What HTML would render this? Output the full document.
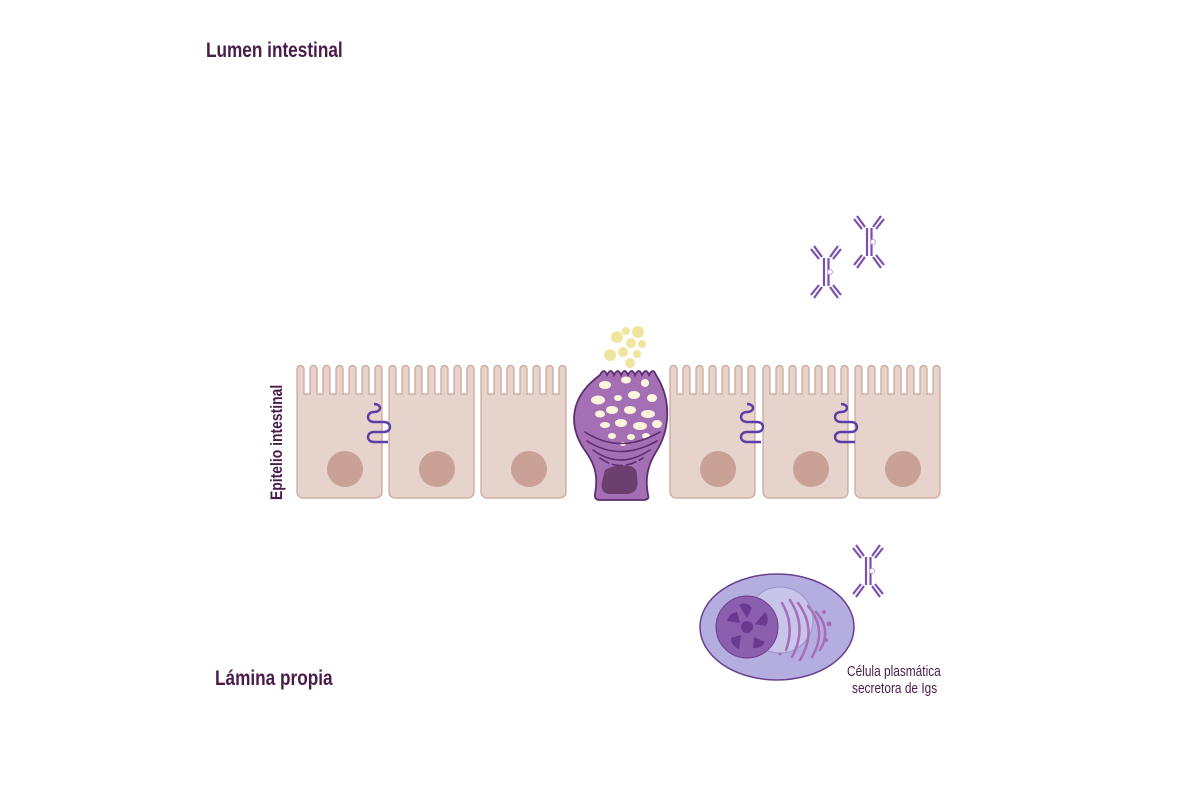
<!DOCTYPE html>
<html><head><meta charset="utf-8"><style>
html,body{margin:0;padding:0;background:#fff;}
svg{display:block}
text{font-family:"Liberation Sans",sans-serif;fill:#4a1c4a;}
</style></head><body>
<svg width="1200" height="800" viewBox="0 0 1200 800" xmlns="http://www.w3.org/2000/svg">
<defs>
<g id="cell">
  <path d="M0,5 a3.5,3.5 0 0 1 7,0 V30 H13 V5 a3.5,3.5 0 0 1 7,0 V30 H26 V5 a3.5,3.5 0 0 1 7,0 V30 H39 V5 a3.5,3.5 0 0 1 7,0 V30 H52 V5 a3.5,3.5 0 0 1 7,0 V30 H65 V5 a3.5,3.5 0 0 1 7,0 V30 H78 V5 a3.5,3.5 0 0 1 7,0 V128 a6,6 0 0 1 -6,6 H6 a6,6 0 0 1 -6,-6 Z" fill="#e6d3cb" stroke="#c9a497" stroke-width="1.2"/>
  <circle cx="48" cy="105" r="18" fill="#caa196"/>
</g>
<g id="ab" stroke="#7a4fae" stroke-width="2.2" fill="none">
  <line x1="-4" y1="13" x2="-12" y2="2"/><line x1="-7" y1="15" x2="-15" y2="5"/>
  <line x1="4" y1="13" x2="12" y2="2"/><line x1="7" y1="15" x2="15" y2="5"/>
  <line x1="-2" y1="14" x2="-2" y2="42"/><line x1="2.5" y1="14" x2="2.5" y2="42"/>
  <line x1="-4" y1="43" x2="-12" y2="54"/><line x1="-7" y1="41" x2="-15" y2="51"/>
  <line x1="4" y1="43" x2="12" y2="54"/><line x1="7" y1="41" x2="15" y2="51"/>
  <circle cx="4" cy="28" r="2.5" stroke="#b9a3d4" stroke-width="1" fill="#fff"/>
</g>
<path id="wave" d="M0,0 c8,0 8,8 0,8 c-8,0 -8,10 0,10 h10 c8,0 8,10 0,10 h-10 c-8,0 -8,10 0,10 h14" fill="none" stroke="#5b3ea8" stroke-width="2.4"/>
</defs>

<text x="206" y="57" font-size="21" font-weight="bold" transform="translate(206,0) scale(0.82,1) translate(-206,0)">Lumen intestinal</text>
<text x="215" y="685" font-size="21" font-weight="bold" transform="translate(215,0) scale(0.82,1) translate(-215,0)">Lámina propia</text>
<text transform="translate(282,500) rotate(-90) scale(0.82,1)" font-size="17" font-weight="bold">Epitelio intestinal</text>

<use href="#cell" x="297" y="364"/>
<use href="#cell" x="389" y="364"/>
<use href="#cell" x="481" y="364"/>
<use href="#cell" x="670" y="364"/>
<use href="#cell" x="763" y="364"/>
<use href="#cell" x="855" y="364"/>

<use href="#wave" x="374" y="404"/>
<use href="#wave" x="747" y="404"/>
<use href="#wave" x="841" y="404"/>

<g fill="#eee18e" opacity="0.85">
<circle cx="617" cy="337" r="6"/><circle cx="626" cy="331" r="4"/><circle cx="638" cy="332" r="6"/>
<circle cx="631" cy="343" r="5"/><circle cx="642" cy="344" r="4"/><circle cx="623" cy="352" r="5"/>
<circle cx="610" cy="355" r="6"/><circle cx="637" cy="354" r="4"/><circle cx="630" cy="363" r="5"/>
</g>
<path d="M600,375 q4,-8 7,0 q4,-8 7,0 q4,-8 7,0 q4,-8 7,0 q4,-8 7,0 q4,-8 7,0 q4,-8 7,0 q4,-8 7,0 C672,400 670,430 656,452 C647,466 645,480 648,495 Q650,500 642,500 H600 Q594,500 595,494 C598,478 596,466 586,452 C570,430 566,400 600,375 Z" fill="#a56fb6" stroke="#5d2e70" stroke-width="1.8"/>
<g fill="#fdf4dc">
<ellipse cx="605" cy="385" rx="6" ry="4"/><ellipse cx="626" cy="380" rx="5" ry="3.5"/><ellipse cx="645" cy="383" rx="4" ry="4"/>
<ellipse cx="598" cy="400" rx="7" ry="4.5"/><ellipse cx="618" cy="398" rx="4" ry="3"/><ellipse cx="634" cy="395" rx="6" ry="4"/><ellipse cx="652" cy="398" rx="5" ry="4"/>
<ellipse cx="600" cy="414" rx="5" ry="3.5"/><ellipse cx="612" cy="410" rx="6" ry="4"/><ellipse cx="630" cy="410" rx="6" ry="4"/><ellipse cx="648" cy="414" rx="7" ry="4"/>
<ellipse cx="605" cy="425" rx="5" ry="3"/><ellipse cx="621" cy="423" rx="6" ry="4"/><ellipse cx="640" cy="426" rx="7" ry="4"/><ellipse cx="657" cy="424" rx="5" ry="4"/>
<ellipse cx="612" cy="436" rx="4" ry="3"/><ellipse cx="631" cy="437" rx="4" ry="3"/><ellipse cx="646" cy="436" rx="4" ry="3"/><ellipse cx="623" cy="444" rx="3" ry="2"/>
</g>
<g fill="none" stroke="#5d2e70" stroke-width="1.6" stroke-linecap="round">
<path d="M585,432 Q620,455 660,432"/><path d="M587,441 Q620,462 657,441"/><path d="M593,450 Q620,470 650,450"/><path d="M600,458 Q620,473 643,458" stroke-dasharray="10 4"/>
</g>
<path d="M605,470 Q615,464 630,466 Q638,468 637,478 Q640,492 628,494 H608 Q600,492 602,482 Z" fill="#6b3f6e"/>

<use href="#ab" x="826" y="244"/>
<use href="#ab" x="869" y="214"/>
<use href="#ab" x="868" y="543"/>

<ellipse cx="777" cy="627" rx="77" ry="53" fill="#b4aee0" stroke="#6a3f8c" stroke-width="1.5"/>
<circle cx="780" cy="620" r="33" fill="#c9c4ea" stroke="#9c93cc" stroke-width="1"/>
<circle cx="747" cy="627" r="31" fill="#8c5fae" stroke="#6a3f8c" stroke-width="1"/>
<g fill="#6a3a92">
<circle cx="747" cy="627" r="6"/>
<path d="M739,605 q8,-4 13,3 l-5,10 z"/><path d="M765,612 q5,7 1,14 l-11,-2 z"/><path d="M765,642 q-4,7 -12,6 l1,-11 z"/>
<path d="M739,649 q-8,-3 -8,-11 l10,-3 z"/><path d="M727,621 q2,-8 10,-9 l3,11 z"/>
</g>
<g fill="none" stroke="#a86cb8" stroke-width="2.5" stroke-linecap="round">
<path d="M782,603 Q795,625 786,650"/><path d="M790,600 Q808,628 792,657"/><path d="M798,603 Q818,630 800,660"/>
<path d="M808,606 Q828,630 812,657"/><path d="M816,612 Q832,630 820,650"/>
</g>
<g fill="#a86cb8"><circle cx="824" cy="612" r="2"/><circle cx="829" cy="624" r="2.5"/><circle cx="826" cy="640" r="2"/><circle cx="780" cy="654" r="1.5"/></g>

<text font-size="14.5" transform="translate(847,676) scale(0.82,1)">Célula plasmática</text>
<text font-size="14.5" transform="translate(852,693) scale(0.82,1)">secretora de Igs</text>
</svg>
</body></html>
